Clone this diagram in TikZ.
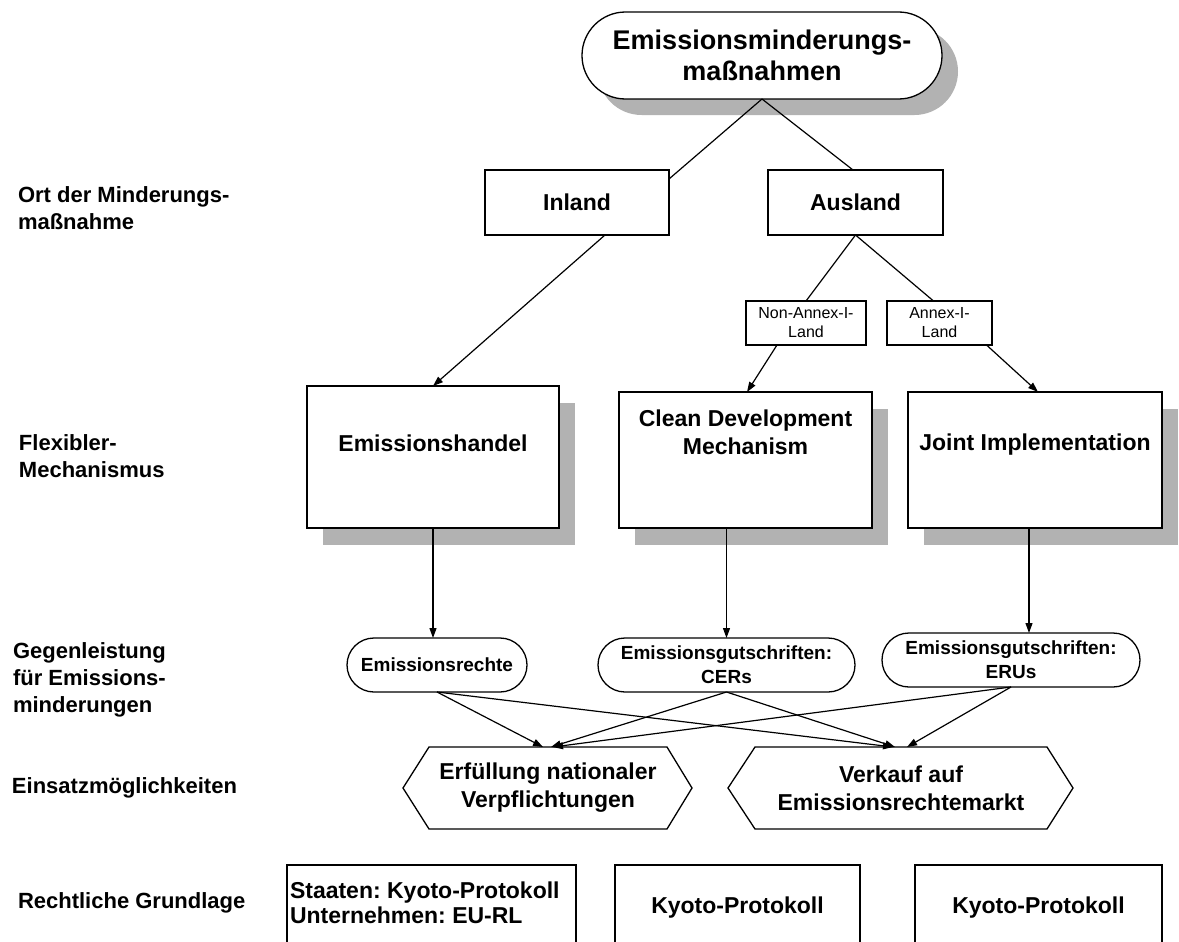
\documentclass[tikz,border=0pt]{standalone}
\usepackage{fontspec}
\setmainfont{Liberation Sans}
\usetikzlibrary{arrows.meta,calc,shadows}
\definecolor{shadowc}{RGB}{178,178,178}
\frenchspacing
\begin{document}
\begin{tikzpicture}[x=1pt,y=-1pt,
  every node/.style={inner sep=0pt, outer sep=0pt},
  bd/.style={draw, line width=1.3pt},
  bx/.style={draw, line width=1.3pt, fill=white},
  shd/.style={drop shadow={shadow xshift=16pt, shadow yshift=-17pt, fill=shadowc, opacity=1, draw=none}},
  bigtxt/.style={font=\fontsize{23}{28}\selectfont\bfseries, align=center},
  labtxt/.style={font=\fontsize{22}{27}\selectfont\bfseries, align=left, anchor=west},
  smalltxt/.style={font=\fontsize{19}{24}\selectfont\bfseries, align=center},
  tinytxt/.style={font=\fontsize{16}{19}\selectfont, align=center},
  ln/.style={line width=1.2pt},
  arr/.style={line width=1.2pt, -{Triangle[length=10pt,width=7pt]}}]
\clip (0,0) rectangle (1179,942);
\useasboundingbox (0,0) rectangle (1179,942);

% left labels
\node[labtxt] (l1) at (18,208.5) {Ort der Minderungs-\\maßnahme};
\node[labtxt] (l2) at (19,456) {Flexibler-\\Mechanismus};
\node[labtxt] (l3) at (13,680) {Gegenleistung\\für Emissions-\\minderungen};
\node[labtxt] (l4) at (12,788) {Einsatzmöglichkeiten};
\node[labtxt] (l5) at (18,903) {Rechtliche Grundlage};

% top
\node[bx, align=center, font=\fontsize{27}{31}\selectfont\bfseries, rounded corners=43.5pt,
  minimum width=360pt, minimum height=87pt,
  drop shadow={shadow xshift=16pt, shadow yshift=-16pt, fill=shadowc, opacity=1, draw=none}]
  (top) at (762,55.5) {Emissionsminderungs-\\maßnahmen};

% level 1
\node[bx, bigtxt, minimum width=184pt, minimum height=65pt] (inl) at (577,202.5) {Inland};
\node[bx, bigtxt, minimum width=175pt, minimum height=65pt] (aus) at (855.5,202.5) {Ausland};

\node[bx, tinytxt, minimum width=120pt, minimum height=44pt] (nai) at (806,323) {Non-Annex-I-\\Land};
\node[bx, tinytxt, minimum width=105pt, minimum height=44pt] (ai) at (939.5,323) {Annex-I-\\Land};

% mechanisms
\node[bx, shd, minimum width=252pt, minimum height=142pt] (eh) at (433,457) {};
\node[bigtxt] (eht) at (433,443) {Emissionshandel};
\node[bx, shd, minimum width=253pt, minimum height=136pt] (cdm) at (745.5,460) {};
\node[bigtxt] (cdmt) at (745.5,432) {Clean Development\\Mechanism};
\node[bx, shd, minimum width=254pt, minimum height=136pt] (ji) at (1035,460) {};
\node[bigtxt] (jit) at (1035,445) {Joint Implementation};

% counter-performance
\node[bx, smalltxt, rounded corners=27pt, minimum width=180pt, minimum height=54pt] (er) at (437,665) {Emissionsrechte};
\node[bx, smalltxt, rounded corners=27pt, minimum width=257pt, minimum height=54pt] (cers) at (726.5,665) {Emissionsgutschriften:\\CERs};
\node[bx, smalltxt, rounded corners=27pt, minimum width=258pt, minimum height=54pt] (erus) at (1011,660) {Emissionsgutschriften:\\ERUs};

% hexagons
\node[bigtxt, minimum width=238pt, minimum height=82pt] (erf) at (548,788) {Erfüllung nationaler\\Verpflichtungen};
\draw[bd] (erf.north west) -- (erf.north east) -- ($(erf.east)+(25,0)$) -- (erf.south east)
  -- (erf.south west) -- ($(erf.west)+(-26,0)$) -- cycle;
\node[bigtxt, minimum width=292pt, minimum height=82pt] (vk) at (901,788) {Verkauf auf\\Emissionsrechtemarkt};
\draw[bd] (vk.north west) -- (vk.north east) -- ($(vk.east)+(26,0)$) -- (vk.south east)
  -- (vk.south west) -- ($(vk.west)+(-27,0)$) -- cycle;

% legal basis
\node[bx, minimum width=289pt, minimum height=85pt] (b1) at (431.5,907.5) {};
\node[bigtxt, font=\fontsize{23}{25}\selectfont\bfseries, align=left, anchor=west] (b1t) at (290,903) {Staaten: Kyoto-Protokoll\\Unternehmen: EU-RL};
\node[bx, bigtxt, minimum width=245pt, minimum height=85pt] (b2) at (737.5,907.5) {Kyoto-Protokoll};
\node[bx, bigtxt, minimum width=247pt, minimum height=85pt] (b3) at (1038.5,907.5) {Kyoto-Protokoll};

% connectors
\draw[ln] (top.south) -- ($(inl.north east)+(0,9)$);
\draw[ln] (top.south) -- ($(aus.north)+(-2.5,0)$);
\draw[ln] (aus.south) -- (nai.north);
\draw[ln] (aus.south) -- ($(ai.north)+(-6,0)$);
\draw[arr] ($(inl.south)+(28,0)$) -- (eh.north);
\draw[arr] ($(nai.south)+(-29,0)$) -- ($(cdm.north)+(1.5,0)$);
\draw[arr] ($(ai.south)+(47,0)$) -- ($(ji.north)+(3,0)$);

\coordinate (ehs) at (eh.south);
\draw[arr] (ehs) -- (ehs |- er.north);
\coordinate (cdms) at (cers.north |- cdm.south);
\draw[arr] (cdms) -- (cers.north);
\coordinate (jis) at ($(ji.south)+(-6,0)$);
\draw[arr] (jis) -- (jis |- erus.north);

\draw[arr] (er.south) -- ($(erf.north)+(-5,0)$);
\draw[arr] (er.south) -- ($(vk.north)+(-8,0)$);
\draw[arr] (cers.south) -- ($(erf.north)+(3,0)$);
\draw[arr] (cers.south) -- ($(vk.north)+(-6,0)$);
\draw[arr] (erus.south) -- ($(erf.north)+(5,0)$);
\draw[arr] (erus.south) -- ($(vk.north)+(6,0)$);
\end{tikzpicture}
\end{document}
